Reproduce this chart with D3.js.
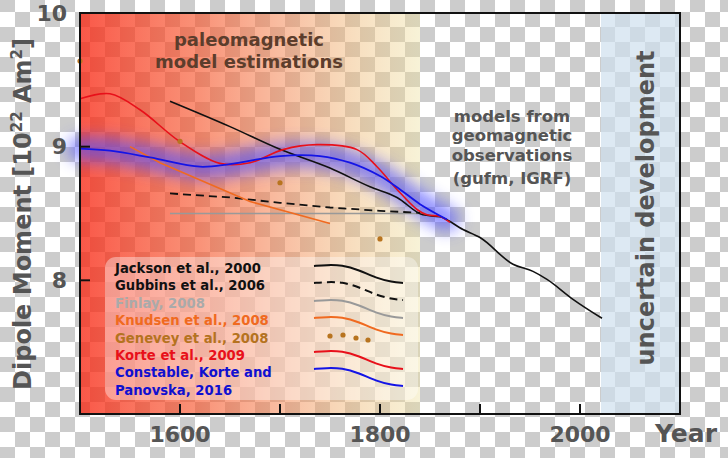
<!DOCTYPE html>
<html>
<head>
<meta charset="utf-8">
<script src="https://cdn.jsdelivr.net/npm/d3@7"></script>
<style>
  html, body { margin: 0; padding: 0; background: #fff; }
  svg { display: block; }
  text { font-family: "DejaVu Sans", Verdana, sans-serif; font-weight: bold; }
</style>
</head>
<body>
<svg id="chart" width="728" height="458"></svg>
<script>
// ---------------- data ----------------
const yTicks = [8, 9, 10];
const xTicks = [1600, 1700, 1800, 1900, 2000];
const xTickLabels = ["1600", "", "1800", "", "2000"];

const jacksonYears  = [1590, 1650, 1700, 1750, 1790, 1817, 1843, 1860, 1883, 1900, 1933, 1953, 1967, 1993, 2022];
const jacksonValues = [9.34, 9.15, 8.98, 8.84, 8.70, 8.62, 8.49, 8.475, 8.38, 8.32, 8.12, 8.067, 8.007, 7.858, 7.716];

const gubbinsYears  = [1590, 1650, 1700, 1750, 1800, 1840];
const gubbinsValues = [8.65, 8.62, 8.58, 8.545, 8.52, 8.505];

const finlayYears  = [1590, 1845];
const finlayValues = [8.5, 8.5];

const knudsenYears  = [1550, 1580, 1670, 1750];
const knudsenValues = [9.0, 8.88, 8.59, 8.425];

const geneveyYears  = [1500, 1600, 1700, 1800];
const geneveyValues = [9.64, 9.04, 8.73, 8.31];

const korteYears  = [1500, 1530, 1560, 1600, 1640, 1670, 1703, 1737, 1777, 1797, 1817, 1837, 1847, 1860, 1870];
const korteValues = [9.358, 9.396, 9.276, 9.037, 8.875, 8.88, 8.978, 9.015, 8.978, 8.85, 8.68, 8.53, 8.49, 8.478, 8.433];

const constableYears  = [1500, 1530, 1570, 1620, 1650, 1700, 1740, 1770, 1800, 1820, 1840, 1867];
const constableValues = [8.985, 8.97, 8.92, 8.85, 8.87, 8.93, 8.93, 8.88, 8.78, 8.68, 8.57, 8.455];

const legendLabels = ["Jackson et al., 2000", "Gubbins et al., 2006", "Finlay, 2008",
  "Knudsen et al., 2008", "Genevey et al., 2008", "Korte et al., 2009",
  "Constable, Korte and", "Panovska, 2016"];

const paleoRange = [1500, 1840];
const uncertainRange = [2021, 2100];

// ---------------- setup ----------------
const svg = d3.select("#chart");
const W = 728, H = 458;
const x = d3.scaleLinear().domain([1500, 2100]).range([80, 680]);
const y = d3.scaleLinear().domain([7, 10]).range([414, 13]);
const zip = (a, b) => a.map((v, i) => [v, b[i]]);

const defs = svg.append("defs");

// checkerboard (transparent-image background)
const pat = defs.append("pattern").attr("id", "checker")
  .attr("patternUnits", "userSpaceOnUse")
  .attr("x", 0).attr("y", -3).attr("width", 30).attr("height", 30);
pat.append("rect").attr("width", 30).attr("height", 30).attr("fill", "#ffffff");
pat.append("rect").attr("width", 15).attr("height", 15).attr("fill", "#cccccc");
pat.append("rect").attr("x", 15).attr("y", 15).attr("width", 15).attr("height", 15).attr("fill", "#cccccc");
svg.append("rect").attr("width", W).attr("height", H).attr("fill", "url(#checker)");

// paleo gradient
const grad = defs.append("linearGradient").attr("id", "paleo")
  .attr("x1", "0%").attr("x2", "100%").attr("y1", "0%").attr("y2", "0%");
[[0, "rgb(248,40,20)", 0.78], [0.35, "rgb(247,90,50)", 0.66], [0.6, "rgb(244,140,90)", 0.56],
 [0.8, "rgb(240,185,120)", 0.48], [1, "rgb(238,225,160)", 0.42]].forEach(s => {
  grad.append("stop").attr("offset", s[0]).attr("stop-color", s[1]).attr("stop-opacity", s[2]);
});

const blur = defs.append("filter").attr("id", "glow")
  .attr("x", "-20%").attr("y", "-300%").attr("width", "140%").attr("height", "700%");
blur.append("feGaussianBlur").attr("stdDeviation", 8);

svg.append("rect")
  .attr("x", x(paleoRange[0])).attr("y", y(10))
  .attr("width", x(paleoRange[1]) - x(paleoRange[0]))
  .attr("height", y(7) - y(10))
  .attr("fill", "url(#paleo)");

svg.append("rect")
  .attr("x", x(uncertainRange[0])).attr("y", y(10))
  .attr("width", x(uncertainRange[1]) - x(uncertainRange[0]))
  .attr("height", y(7) - y(10))
  .attr("fill", "rgb(206,224,238)").attr("fill-opacity", 0.7);

// annotations
const ann = svg.append("g");
ann.append("text").attr("x", 249).attr("y", 46).attr("text-anchor", "middle")
  .attr("font-size", 18).attr("fill", "#5c3d2c").text("paleomagnetic");
ann.append("text").attr("x", 249).attr("y", 68).attr("text-anchor", "middle")
  .attr("font-size", 18).attr("fill", "#5c3d2c").text("model estimations");

const rightLines = [["models from", 122], ["geomagnetic", 141], ["observations", 161], ["(gufm, IGRF)", 184]];
rightLines.forEach(d => {
  ann.append("text").attr("x", 512).attr("y", d[1]).attr("text-anchor", "middle")
    .attr("font-size", 16.5).attr("fill", "#555").text(d[0]);
});
ann.append("text").attr("transform", "translate(646,208) rotate(-90)")
  .attr("text-anchor", "middle").attr("dy", "0.35em")
  .attr("font-size", 24).attr("fill", "#555").text("uncertain development");

// ---------------- series ----------------
const line = d3.line().x(d => x(d[0])).y(d => y(d[1])).curve(d3.curveMonotoneX);
const smooth = d3.line().x(d => x(d[0])).y(d => y(d[1])).curve(d3.curveCatmullRom.alpha(0.5));
const straight = d3.line().x(d => x(d[0])).y(d => y(d[1]));

// blue glow
svg.append("path").attr("d", smooth(zip(constableYears, constableValues)))
  .attr("fill", "none").attr("stroke", "#5050ff").attr("stroke-width", 24)
  .attr("stroke-linecap", "round").attr("opacity", 0.65).attr("filter", "url(#glow)");

svg.append("path").attr("d", straight(zip(finlayYears, finlayValues)))
  .attr("fill", "none").attr("stroke", "#999").attr("stroke-width", 1.5);
svg.append("path").attr("d", straight(zip(gubbinsYears, gubbinsValues)))
  .attr("fill", "none").attr("stroke", "#111").attr("stroke-width", 1.8).attr("stroke-dasharray", "8,5");
svg.append("path").attr("d", straight(zip(knudsenYears, knudsenValues)))
  .attr("fill", "none").attr("stroke", "#f06a20").attr("stroke-width", 1.6);
svg.append("path").attr("d", line(zip(jacksonYears, jacksonValues)))
  .attr("fill", "none").attr("stroke", "#111").attr("stroke-width", 1.6);
svg.append("path").attr("d", smooth(zip(korteYears, korteValues)))
  .attr("fill", "none").attr("stroke", "#e8101a").attr("stroke-width", 1.6);
svg.append("path").attr("d", smooth(zip(constableYears, constableValues)))
  .attr("fill", "none").attr("stroke", "#1414e6").attr("stroke-width", 1.8);

svg.append("g").selectAll("circle").data(zip(geneveyYears, geneveyValues)).join("circle")
  .attr("cx", d => x(d[0])).attr("cy", d => y(d[1])).attr("r", 2.6).attr("fill", "#b8741f");

// ---------------- legend ----------------
const lg = svg.append("g");
lg.append("rect").attr("x", 105).attr("y", 257).attr("width", 313).attr("height", 143)
  .attr("rx", 11).attr("fill", "#ffffff").attr("fill-opacity", 0.38);
const legendColors = ["#111", "#111", "#aaa", "#f06a20", "#b5731f", "#e8101a", "#1010d0", "#1010d0"];
legendLabels.forEach((t, i) => {
  lg.append("text").attr("x", 115).attr("y", 273 + i * 17.4)
    .attr("font-size", 13.2).attr("fill", legendColors[i]).text(t);
});
const wave = [[0, 0], [12, -1], [28, -1], [45, 4], [62, 12], [78, 16], [89, 17]];
const waveLine = d3.line().x(d => d[0]).y(d => d[1]).curve(d3.curveBasis);
const samples = [
  {y: 266, color: "#111", dash: null},
  {y: 283, color: "#111", dash: "8,5"},
  {y: 301, color: "#999", dash: null},
  {y: 318, color: "#f06a20", dash: null},
  {y: 352, color: "#e8101a", dash: null},
  {y: 369, color: "#1414e6", dash: null}
];
samples.forEach(s => {
  lg.append("path").attr("d", waveLine(wave))
    .attr("transform", `translate(314,${s.y})`)
    .attr("fill", "none").attr("stroke", s.color).attr("stroke-width", 2)
    .attr("stroke-dasharray", s.dash);
});
[[330, 336], [343, 335], [356, 338], [368, 340]].forEach(p => {
  lg.append("circle").attr("cx", p[0]).attr("cy", p[1]).attr("r", 2.6).attr("fill", "#b8741f");
});

// ---------------- axes & frame ----------------
svg.append("rect").attr("x", 80).attr("y", 13).attr("width", 600).attr("height", 401)
  .attr("fill", "none").attr("stroke", "#111").attr("stroke-width", 2);

const yAxis = svg.append("g");
yAxis.selectAll("line").data(yTicks.filter(d => d < 10)).join("line")
  .attr("x1", 80).attr("x2", 90).attr("y1", d => y(d)).attr("y2", d => y(d))
  .attr("stroke", "#111").attr("stroke-width", 2);
yAxis.selectAll("text").data(yTicks).join("text")
  .attr("x", 67).attr("y", d => y(d)).attr("dy", "0.35em").attr("text-anchor", "end")
  .attr("font-size", 22).attr("fill", "#555").text(d => d);

const xAxis = svg.append("g");
xAxis.selectAll("line").data(xTicks).join("line")
  .attr("x1", d => x(d)).attr("x2", d => x(d)).attr("y1", 414).attr("y2", 404)
  .attr("stroke", "#111").attr("stroke-width", 2);
xAxis.selectAll("text").data(xTicks).join("text")
  .attr("x", d => x(d)).attr("y", 442).attr("text-anchor", "middle")
  .attr("font-size", 22).attr("fill", "#555").text((d, i) => xTickLabels[i]);
svg.append("text").attr("x", 686).attr("y", 442).attr("text-anchor", "middle")
  .attr("font-size", 25).attr("fill", "#555").text("Year");

const yt = svg.append("text").attr("transform", "translate(31,214) rotate(-90)")
  .attr("text-anchor", "middle").attr("font-size", 24).attr("fill", "#555");
yt.append("tspan").text("Dipole Moment [10");
yt.append("tspan").attr("font-size", 15).attr("dy", -9).text("22");
yt.append("tspan").attr("dy", 9).text(" Am");
yt.append("tspan").attr("font-size", 15).attr("dy", -9).text("2");
yt.append("tspan").attr("dy", 9).text("]");
</script>
</body>
</html>
